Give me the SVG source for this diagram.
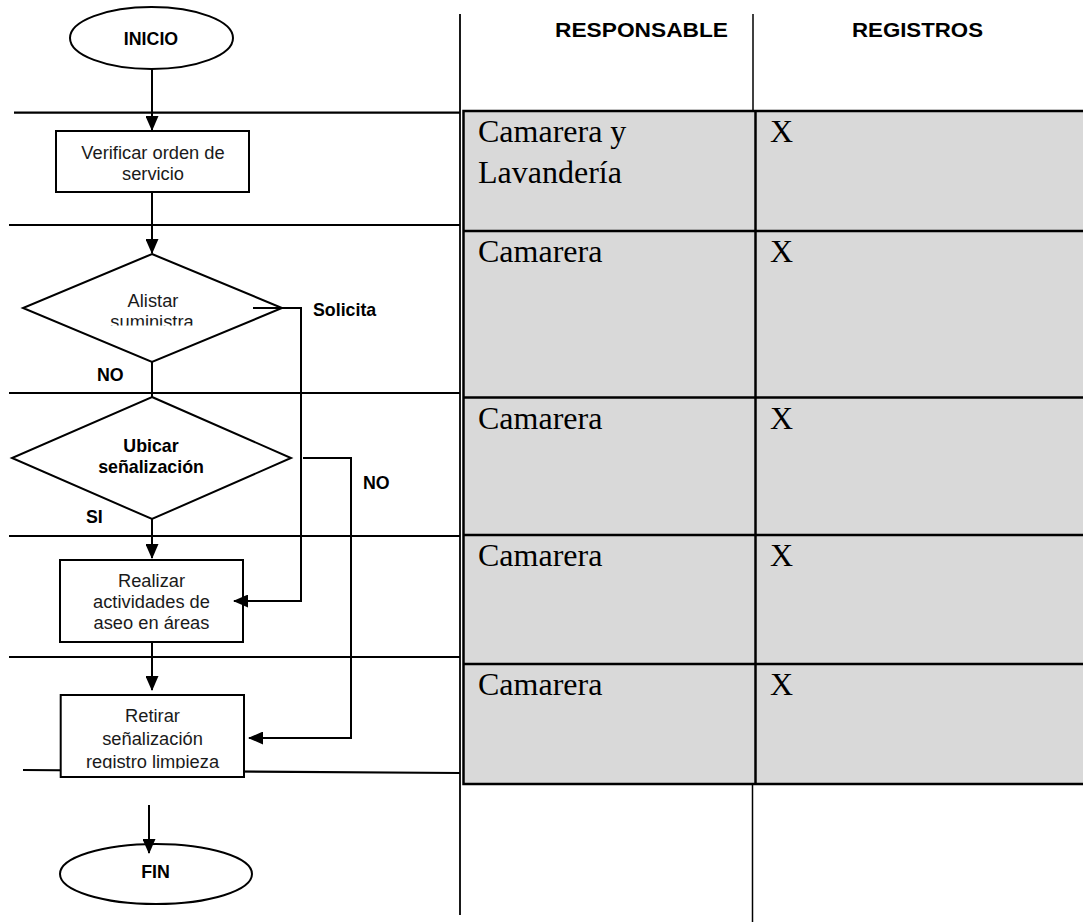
<svg xmlns="http://www.w3.org/2000/svg" width="1083" height="922" viewBox="0 0 1083 922">
  <style>
    .ln { stroke: #000; stroke-width: 2; fill: none; }
    .sep { stroke: #000; stroke-width: 2.2; fill: none; }
    .shape { stroke: #000; stroke-width: 2; fill: #fff; }
    .t { font-family: "Liberation Sans", Arial, sans-serif; font-size: 18.3px; fill: #1a1a1a; text-anchor: middle; }
    .b { font-family: "Liberation Sans", Arial, sans-serif; font-weight: bold; font-size: 17.8px; fill: #000; }
    .hd { font-family: "Liberation Sans", Arial, sans-serif; font-weight: bold; font-size: 20.5px; fill: #000; }
    .cell { font-family: "Liberation Serif", "Times New Roman", serif; font-size: 32px; fill: #000; }
    .grid { stroke: #000; stroke-width: 2.5; fill: none; }
    .panel { stroke: #000; stroke-width: 2.5; fill: #d9d9d9; }
  </style>
  <defs>
    <marker id="arrow" markerUnits="userSpaceOnUse" markerWidth="15" markerHeight="13" refX="14" refY="6.5" orient="auto">
      <path d="M0,0 L15,6.5 L0,13 z" fill="#000"/>
    </marker>
    <clipPath id="clipAlistar"><rect x="60" y="280" width="200" height="45.5"/></clipPath>
    <clipPath id="clipRetirar"><rect x="61" y="696" width="182" height="72.5"/></clipPath>
  </defs>

  <rect x="0" y="0" width="1083" height="922" fill="#fff"/>

  <!-- table: responsible / records -->
  <g id="table">
    <rect class="panel" x="463.5" y="111" width="625" height="673"/>
    <line class="grid" x1="755.5" y1="111" x2="755.5" y2="784"/>
    <line class="grid" x1="463.5" y1="231" x2="1083" y2="231"/>
    <line class="grid" x1="463.5" y1="397.5" x2="1083" y2="397.5"/>
    <line class="grid" x1="463.5" y1="535" x2="1083" y2="535"/>
    <line class="grid" x1="463.5" y1="664" x2="1083" y2="664"/>
    <text class="cell" x="478" y="142">Camarera y</text>
    <text class="cell" x="478" y="183">Lavandería</text>
    <text class="cell" x="770" y="142">X</text>
    <text class="cell" x="478" y="262">Camarera</text>
    <text class="cell" x="770" y="262">X</text>
    <text class="cell" x="478" y="428.5">Camarera</text>
    <text class="cell" x="770" y="428.5">X</text>
    <text class="cell" x="478" y="566">Camarera</text>
    <text class="cell" x="770" y="566">X</text>
    <text class="cell" x="478" y="695">Camarera</text>
    <text class="cell" x="770" y="695">X</text>
  </g>

  <!-- column dividers and headers -->
  <g id="columns">
    <line x1="460" y1="14" x2="460" y2="915" stroke="#000" stroke-width="1.8"/>
    <line x1="753" y1="14" x2="753" y2="111" stroke="#000" stroke-width="1.5"/>
    <line x1="752.5" y1="784" x2="752.5" y2="922" stroke="#000" stroke-width="1.5"/>
    <text class="hd" x="555" y="37" textLength="173" lengthAdjust="spacingAndGlyphs">RESPONSABLE</text>
    <text class="hd" x="852" y="37" textLength="131" lengthAdjust="spacingAndGlyphs">REGISTROS</text>
  </g>

  <!-- row separators of the flow column -->
  <g id="separators">
    <line class="sep" x1="14" y1="112.7" x2="460" y2="112.7"/>
    <line class="sep" x1="9" y1="225" x2="460" y2="225"/>
    <line class="sep" x1="9" y1="393" x2="460" y2="393"/>
    <line class="sep" x1="9" y1="536" x2="460" y2="536"/>
    <line class="sep" x1="9" y1="657" x2="460" y2="657"/>
    <line class="sep" x1="23" y1="770" x2="460" y2="773"/>
  </g>

  <g id="inicio">
    <ellipse class="shape" cx="151.5" cy="38" rx="81.5" ry="31"/>
    <text class="b" x="151" y="44.5" text-anchor="middle" font-size="18.3">INICIO</text>
  </g>

  <g id="verificar">
    <rect class="shape" x="56" y="131" width="193" height="61"/>
    <text class="t" x="153" y="159">Verificar orden de</text>
    <text class="t" x="153" y="180">servicio</text>
  </g>

  <g id="alistar">
    <polygon class="shape" points="152,254 282,308 152,362 23,308"/>
    <text class="t" x="153" y="307">Alistar</text>
    <text class="t" x="152" y="328" clip-path="url(#clipAlistar)">suministra</text>
  </g>

  <g id="ubicar">
    <polygon class="shape" points="152,397 291,458 152,519 12,458"/>
    <text class="b" x="151" y="451.7" text-anchor="middle">Ubicar</text>
    <text class="b" x="151" y="472.7" text-anchor="middle">señalización</text>
  </g>

  <g id="realizar">
    <rect class="shape" x="60" y="560" width="183" height="82"/>
    <text class="t" x="151.5" y="586.7">Realizar</text>
    <text class="t" x="151.5" y="607.5">actividades de</text>
    <text class="t" x="151.5" y="629.3">aseo en áreas</text>
  </g>

  <g id="retirar">
    <rect class="shape" x="60.7" y="695" width="183.3" height="82"/>
    <text class="t" x="152.5" y="721.7">Retirar</text>
    <text class="t" x="152.5" y="745">señalización</text>
    <text class="t" x="152.5" y="768" clip-path="url(#clipRetirar)">registro limpieza</text>
  </g>

  <g id="fin">
    <ellipse class="shape" cx="156" cy="874" rx="96" ry="30"/>
    <text class="b" x="155.5" y="878.3" text-anchor="middle">FIN</text>
  </g>

  <!-- connectors -->
  <g id="connectors">
    <line class="ln" x1="152" y1="69" x2="152" y2="130" marker-end="url(#arrow)"/>
    <line class="ln" x1="152" y1="192" x2="152" y2="253" marker-end="url(#arrow)"/>
    <line class="ln" x1="152" y1="362" x2="152" y2="397"/>
    <line class="ln" x1="152" y1="519" x2="152" y2="558" marker-end="url(#arrow)"/>
    <line class="ln" x1="152" y1="642" x2="152" y2="690" marker-end="url(#arrow)"/>
    <polyline class="ln" points="253,308 301,308 301,601 234,601" marker-end="url(#arrow)"/>
    <polyline class="ln" points="303,458 351,458 351,738 249,738" marker-end="url(#arrow)"/>
    <line class="ln" x1="149" y1="805" x2="149" y2="853" marker-end="url(#arrow)"/>
    <text class="b" x="313" y="316">Solicita</text>
    <text class="b" x="97" y="381">NO</text>
    <text class="b" x="363" y="488.5">NO</text>
    <text class="b" x="86" y="523">SI</text>
  </g>
</svg>
